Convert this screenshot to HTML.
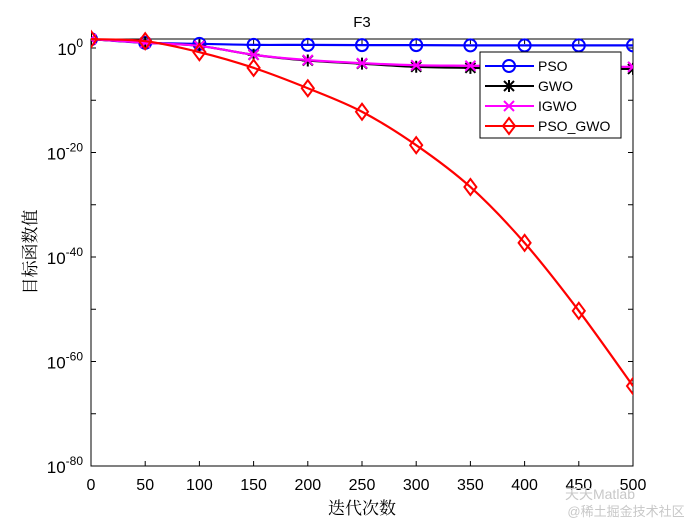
<!DOCTYPE html>
<html><head><meta charset="utf-8"><style>
body{margin:0;background:#fff;}
svg{display:block;font-family:"Liberation Sans",Arial,sans-serif;}
</style></head><body>
<svg id="chart" width="700" height="525" viewBox="0 0 700 525" xmlns="http://www.w3.org/2000/svg">
<rect x="0" y="0" width="700" height="525" fill="#fff"/>
<g id="plot"></g>
<text x="362" y="27" text-anchor="middle" font-size="15">F3</text>
<text x="362" y="514" text-anchor="middle" font-size="17" font-family="'Liberation Serif','Noto Serif CJK SC',serif">迭代次数</text>
<text transform="translate(36,252) rotate(-90)" text-anchor="middle" font-size="17" font-family="'Liberation Serif','Noto Serif CJK SC',serif">目标函数值</text>
<text x="600" y="499" text-anchor="middle" font-size="14" fill="#c8c8c8">天天Matlab</text>
<text x="626" y="516" text-anchor="middle" font-size="13" fill="#c8c8c8" font-family="'Liberation Sans','Noto Sans CJK SC',sans-serif">@稀土掘金技术社区</text>
</svg>
<script>
const xs=[0,50,100,150,200,250,300,350,400,450,500];
const psoVals=[1.7,1.0,0.8,0.6,0.6,0.55,0.55,0.5,0.5,0.5,0.5];
const gwoVals=[1.7,1.0,0.4,-1.3,-2.4,-3.0,-3.6,-3.8,-3.9,-4.0,-4.0];
const igwoVals=[1.7,1.0,0.4,-1.3,-2.3,-2.9,-3.3,-3.4,-3.5,-3.6,-3.6];
const psogwoVals=[1.7,1.3,-0.8,-3.8,-7.7,-12.2,-18.6,-26.6,-37.3,-50.3,-64.7];
const xTicks=[0,50,100,150,200,250,300,350,400,450,500];
const yTicks=[0,-20,-40,-60,-80];
const L=91,R=633,T=39,B=466;
const xS=v=>L+(v/500)*(R-L);
const yS=e=>48-e*((B-48)/80);
const NS="http://www.w3.org/2000/svg";
const g=document.getElementById('plot');
function mk(t,a,p){const e=document.createElementNS(NS,t);for(const k in a)e.setAttribute(k,a[k]);(p||g).appendChild(e);return e;}
const box=mk('rect',{x:L,y:T,width:R-L,height:B-T,fill:'none',stroke:'#000','stroke-width':1});


xTicks.forEach(v=>{const x=xS(v);
mk('line',{x1:x,y1:B,x2:x,y2:B-5,stroke:'#000'});mk('line',{x1:x,y1:T,x2:x,y2:T+5,stroke:'#000'});
const t=mk('text',{x:x,y:B+24,'text-anchor':'middle','font-size':16});t.textContent=v;

});
for(let e=0;e>=-80;e-=10){const y=yS(e);
mk('line',{x1:L,y1:y,x2:L+5,y2:y,stroke:'#000'});mk('line',{x1:R,y1:y,x2:R-5,y2:y,stroke:'#000'});}
yTicks.forEach(e=>{const y=yS(e);
const t=mk('text',{x:L-8,y:y+7,'text-anchor':'end','font-size':17});
t.innerHTML='10<tspan dy="-8" font-size="12">'+e+'</tspan>';

});
function path(vals){let pts=xs.map((x,i)=>[xS(x),yS(vals[i])]);let d='M'+pts[0];
for(let i=0;i<pts.length-1;i++){const p0=pts[Math.max(0,i-1)],p1=pts[i],p2=pts[i+1],p3=pts[Math.min(pts.length-1,i+2)];
d+=' C'+(p1[0]+(p2[0]-p0[0])/6)+','+(p1[1]+(p2[1]-p0[1])/6)+' '+(p2[0]-(p3[0]-p1[0])/6)+','+(p2[1]-(p3[1]-p1[1])/6)+' '+p2;}return d;}
function marker(type,x,y,c,par){
if(type==='o')mk('circle',{cx:x,cy:y,r:6,fill:'none',stroke:c,'stroke-width':2},par);
else if(type==='x'){mk('path',{d:`M${x-5},${y-5}L${x+5},${y+5}M${x-5},${y+5}L${x+5},${y-5}`,stroke:c,'stroke-width':2},par);}
else if(type==='*'){mk('path',{d:`M${x-5},${y-5}L${x+5},${y+5}M${x-5},${y+5}L${x+5},${y-5}M${x},${y-6}L${x},${y+6}M${x-6},${y}L${x+6},${y}`,stroke:c,'stroke-width':2},par);}
else mk('path',{d:`M${x},${y-8}L${x+6},${y}L${x},${y+8}L${x-6},${y}Z`,fill:'none',stroke:c,'stroke-width':2},par);}
const series=[['pso',psoVals,'#0000ff','o'],['gwo',gwoVals,'#000','*'],['igwo',igwoVals,'#ff00ff','x'],['pso-gwo',psogwoVals,'#ff0000','d']];
const clip=mk('clipPath',{id:'cp'});mk('rect',{x:L,y:T-12,width:R-L,height:B-T+12},clip);
series.forEach(s=>{const sg=mk('g',{'clip-path':'url(#cp)'});


mk('path',{d:path(s[1]),fill:'none',stroke:s[2],'stroke-width':2.2},sg);
xs.forEach((x,i)=>marker(s[3],xS(x),yS(s[1][i]),s[2],sg));});
const lg=mk('g',{});


mk('rect',{x:480,y:52,width:141,height:86,fill:'#fff',stroke:'#000'},lg);
const names=['PSO','GWO','IGWO','PSO_GWO'];
series.forEach((s,i)=>{const y=66+i*20;const eg=mk('g',{},lg);


mk('line',{x1:485,y1:y,x2:534,y2:y,stroke:s[2],'stroke-width':2},eg);
marker(s[3],509,y,s[2],eg);
const t=mk('text',{x:538,y:y+5,'font-size':14},eg);t.textContent=names[i];});
</script>
</body></html>
